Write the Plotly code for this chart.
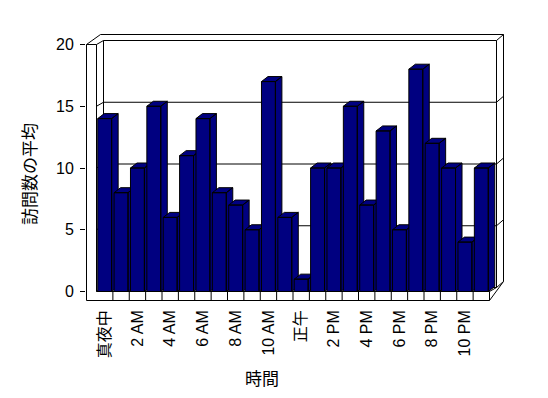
import plotly.graph_objects as go

# ---- data ----
hours = list(range(24))
visits = [14, 8, 10, 15, 6, 11, 14, 8, 7, 5, 17, 6, 1, 10, 10, 15, 7, 13, 5, 18, 12, 10, 4, 10]
tick_positions = [0, 2, 4, 6, 8, 10, 12, 14, 16, 18, 20, 22]
tick_labels = ["真夜中", "2 AM", "4 AM", "6 AM", "8 AM", "10 AM", "正午",
               "2 PM", "4 PM", "6 PM", "8 PM", "10 PM"]
y_ticks = [0, 5, 10, 15, 20]
x_title = "時間"
y_title = "訪問数の平均"

# ---- geometry (pixel-based scale definition) ----
W, H = 548, 398
PL, PR, PT, PB = 86, 505, 33, 302          # plot area in px
FLOOR_LEFT_PX, FLOOR_RIGHT_PX = 96.5, 489.5
PITCH = (FLOOR_RIGHT_PX - FLOOR_LEFT_PX) / len(hours)
X0 = FLOOR_LEFT_PX + PITCH / 2              # px of category 0
Y0 = 291.5                                  # px of value 0 (front plane)
SCALE = (Y0 - 44.5) / 20                    # px per unit

def cx(px):
    return (px - X0) / PITCH

def cy(py):
    return (Y0 - py) / SCALE

def ddx(px):
    return px / PITCH

def ddy(px):
    return px / SCALE

xr = [cx(PL), cx(PR)]
yr = [cy(PB), cy(PT)]

NAVY = "#000080"
BAR_W = 0.85
BDX, BDY = ddx(6.5), ddy(5)        # bar depth
WDX, WDY = ddx(7), ddy(4)          # inner wall depth
ODX, ODY = ddx(14), ddy(10)        # outer depth
RDX, RDY = ddx(7), ddy(6)          # right wall thickness

x_out = cx(86.5)
x_in = -0.5
x_right = len(hours) - 0.5
y_top = max(y_ticks)
y_floor_bot = cy(300.5)

fig = go.Figure()

# outer frame & walls
sx, sy = [], []
def seg(pts):
    for p in pts:
        sx.append(p[0]); sy.append(p[1])
    sx.append(None); sy.append(None)

seg([(x_out, y_top), (x_out + ODX, y_top + ODY), (x_right + WDX + RDX, y_top + ODY),
     (x_right + WDX + RDX, ODY), (x_right, y_floor_bot), (x_out, y_floor_bot), (x_out, y_top)])
seg([(x_out, y_top), (x_in, y_top), (x_in, 0)])
seg([(x_in + WDX, y_top + WDY), (x_in + WDX, WDY)])
seg([(x_right + WDX, y_top + WDY), (x_right + WDX, WDY)])
for v in y_ticks:
    seg([(x_in, v), (x_in + WDX, v + WDY), (x_right + WDX, v + WDY),
         (x_right + WDX + RDX, v + WDY + RDY)])
# floor front face
seg([(x_in, 0), (x_right, 0), (x_right, y_floor_bot)])
seg([(x_right, 0), (x_right + WDX, WDY)])
for k in range(1, len(hours)):
    seg([(k - 0.5, 0), (k - 0.5, y_floor_bot)])

fig.add_trace(go.Scatter(x=sx, y=sy, mode="lines", line=dict(color="black", width=1),
                         hoverinfo="skip", showlegend=False))

# bars (left to right so later bars cover earlier side faces)
for h, v in zip(hours, visits):
    l, r = h - BAR_W / 2, h + BAR_W / 2
    bx = [l, r, r, l, l, None,
          r, r + BDX, r + BDX, r, r, None,
          l, r, r + BDX, l + BDX, l]
    by = [0, 0, v, v, 0, None,
          0, BDY, v + BDY, v, 0, None,
          v, v, v + BDY, v + BDY, v]
    fig.add_trace(go.Scatter(x=bx, y=by, mode="lines", fill="toself", fillcolor=NAVY,
                             line=dict(color="black", width=1), hoverinfo="skip",
                             showlegend=False))

FONT = "Liberation Sans, Arial, Noto Sans CJK JP"
fig.update_layout(
    width=W, height=H,
    margin=dict(l=PL, r=W - PR, t=PT, b=H - PB, pad=0),
    paper_bgcolor="white", plot_bgcolor="white",
    font=dict(family=FONT, size=16, color="black"),
    xaxis=dict(range=xr, showgrid=False, zeroline=False, showline=False,
               tickmode="array", tickvals=tick_positions, ticktext=tick_labels,
               tickangle=-90, ticks="", ticklabelstandoff=4,
               tickfont=dict(family=FONT, size=16)),
    yaxis=dict(range=yr, showgrid=False, zeroline=False, showline=False,
               tickmode="array", tickvals=y_ticks, ticks="outside", ticklen=5,
               tickcolor="black", tickwidth=1, ticklabelstandoff=3,
               tickfont=dict(family=FONT, size=16)),
    annotations=[
        dict(text=x_title, xref="paper", yref="paper",
             x=(262 - PL) / (PR - PL), y=(PB - 377) / (PB - PT),
             showarrow=False, font=dict(family="Noto Sans CJK JP", size=17),
             xanchor="center", yanchor="middle"),
        dict(text=y_title, xref="paper", yref="paper",
             x=(28 - PL) / (PR - PL), y=(PB - 174) / (PB - PT),
             showarrow=False, textangle=-90, font=dict(family="Noto Sans CJK JP", size=17),
             xanchor="center", yanchor="middle"),
    ],
)

fig.write_html("out.html")
